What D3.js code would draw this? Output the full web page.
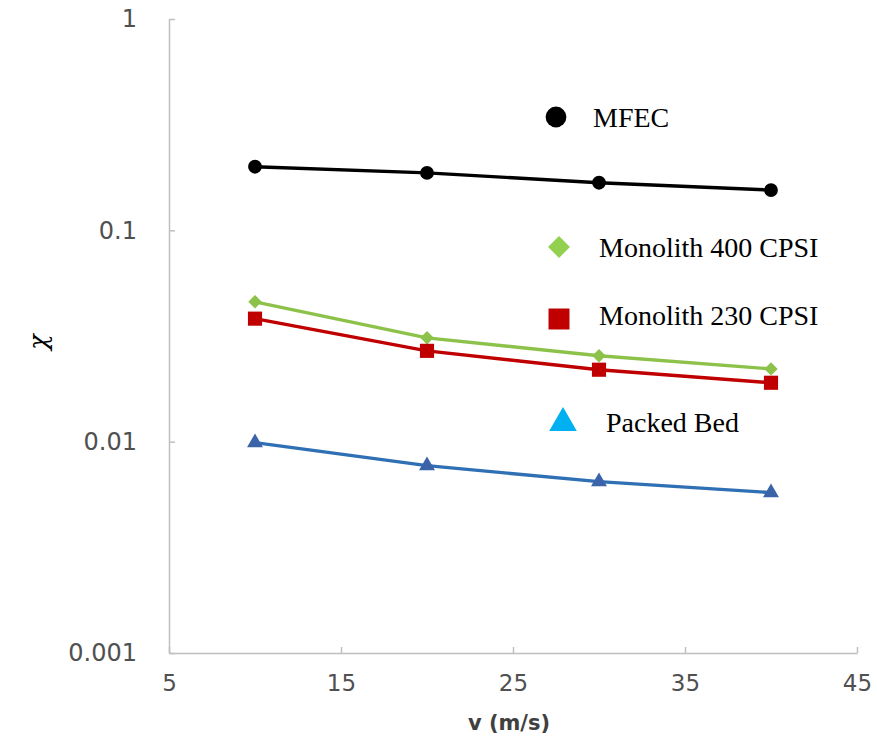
<!DOCTYPE html>
<html>
<head>
<meta charset="utf-8">
<script src="https://cdn.jsdelivr.net/npm/d3@7"></script>
<style>
  html, body { margin: 0; padding: 0; background: #fff; }
  svg { display: block; }
</style>
</head>
<body>
<svg id="chart" width="877" height="742"></svg>
<script>
// ---- data ----
const velocities = [10, 20, 30, 40];
const mfec = [0.200, 0.187, 0.168, 0.155];
const monolith400 = [0.0459, 0.0310, 0.0255, 0.0221];
const monolith230 = [0.0382, 0.0269, 0.0219, 0.0190];
const packedBed = [0.00989, 0.0077, 0.00647, 0.00574];
const xTicks = [5, 15, 25, 35, 45];
const yTicks = [0.001, 0.01, 0.1, 1];
const yTickLabels = ["0.001", "0.01", "0.1", "1"];
const seriesNames = ["MFEC", "Monolith 400 CPSI", "Monolith 230 CPSI", "Packed Bed"];

const series = [
  { name: seriesNames[0], values: mfec, line: "#000000", marker: "#000000", legendMarker: "#000000", shape: "circle" },
  { name: seriesNames[1], values: monolith400, line: "#8DC24A", marker: "#8DC24A", legendMarker: "#92D050", shape: "diamond" },
  { name: seriesNames[2], values: monolith230, line: "#C00000", marker: "#C00000", legendMarker: "#C00000", shape: "square" },
  { name: seriesNames[3], values: packedBed, line: "#2F6FB4", marker: "#3B64A8", legendMarker: "#00B0F0", shape: "triangle" }
];

const svg = d3.select("#chart");
const x = d3.scaleLinear().domain([5, 45]).range([169, 857]);
const y = d3.scaleLog().domain([0.001, 1]).range([653, 19]);

// axes
const axisColor = "#BFBFBF";
const labelColor = "#505050";

const xAxis = svg.append("g").attr("transform", `translate(0,${y(0.001)})`)
  .call(d3.axisBottom(x).tickValues(xTicks).tickSizeInner(-6).tickSizeOuter(0).tickPadding(22).tickFormat(d3.format("d")));
xAxis.select(".domain").attr("stroke", axisColor).attr("stroke-width", 1.5);
xAxis.selectAll(".tick line").attr("stroke", axisColor).attr("stroke-width", 1.5);
xAxis.selectAll(".tick text").attr("fill", labelColor)
  .style("font-family", "'DejaVu Sans', sans-serif").style("font-size", "23px");

const yAxis = svg.append("g").attr("transform", `translate(${x(5)},0)`)
  .call(d3.axisLeft(y).tickValues(yTicks).tickSizeInner(-6).tickSizeOuter(0).tickPadding(32)
    .tickFormat((d, i) => yTickLabels[i]));
yAxis.select(".domain").attr("stroke", axisColor).attr("stroke-width", 1.5);
yAxis.selectAll(".tick line").attr("stroke", axisColor).attr("stroke-width", 1.5);
yAxis.selectAll(".tick text").attr("fill", labelColor)
  .style("font-family", "'DejaVu Sans', sans-serif").style("font-size", "24px");

// axis titles
svg.append("text").attr("x", 509).attr("y", 730).attr("text-anchor", "middle")
  .attr("fill", "#404040").style("font-family", "'DejaVu Sans', sans-serif")
  .style("font-size", "21px").style("font-weight", "bold").text("v (m/s)");
svg.append("text").attr("transform", "translate(38,342) rotate(-90)").attr("text-anchor", "middle")
  .attr("dominant-baseline", "central")
  .attr("fill", "#000").style("font-family", "'DejaVu Serif', serif")
  .style("font-size", "26px").style("font-style", "italic").text("χ");

// symbols
const squareDiamond = {
  draw(context, size) {
    const r = Math.sqrt(size / 2);
    context.moveTo(0, -r); context.lineTo(r, 0); context.lineTo(0, r); context.lineTo(-r, 0); context.closePath();
  }
};
const shapeType = { circle: d3.symbolCircle, diamond: squareDiamond, square: d3.symbolSquare, triangle: d3.symbolTriangle };
const dataSize = { circle: 150, diamond: 90, square: 200, triangle: 110 };

const line = d3.line().x((d, i) => x(velocities[i])).y(d => y(d));

series.forEach(s => {
  svg.append("path").datum(s.values).attr("d", line)
    .attr("fill", "none").attr("stroke", s.line).attr("stroke-width", 3.4)
    .attr("stroke-linejoin", "round");
  svg.append("g").selectAll("path").data(s.values).join("path")
    .attr("transform", (d, i) => `translate(${x(velocities[i])},${y(d)})`)
    .attr("d", d3.symbol().type(shapeType[s.shape]).size(dataSize[s.shape])())
    .attr("fill", s.marker);
});

// legend
const legendItems = [
  { s: series[0], mx: 556, my: 117, tx: 593, ty: 127, size: 340 },
  { s: series[1], mx: 559, my: 247, tx: 599, ty: 257, size: 240 },
  { s: series[2], mx: 559, my: 319, tx: 599, ty: 325, size: 440 },
  { s: series[3], mx: 563, my: 423, tx: 606, ty: 432, size: 330 }
];
legendItems.forEach(l => {
  const sym = d3.symbol().type(shapeType[l.s.shape]).size(l.size);
  svg.append("path").attr("transform", `translate(${l.mx},${l.my})`).attr("d", sym()).attr("fill", l.s.legendMarker);
  svg.append("text").attr("x", l.tx).attr("y", l.ty).attr("fill", "#000")
    .style("font-family", "'Liberation Serif', 'Times New Roman', serif").style("font-size", "28px")
    .text(l.s.name);
});
</script>
</body>
</html>
